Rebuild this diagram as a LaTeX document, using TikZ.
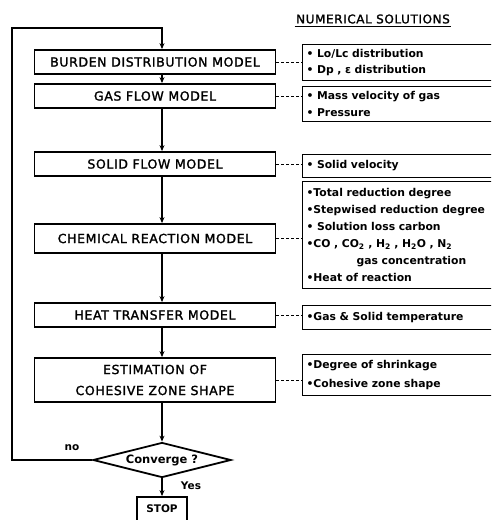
\documentclass[tikz,border=0pt]{standalone}
\usepackage{fontspec}
\setmainfont{DejaVu Sans}
\newfontfamily\lettering[LetterSpace=5,FakeBold=1.6]{DejaVu Sans}
\usetikzlibrary{positioning,arrows.meta,shapes.geometric,calc}

\begin{document}
\begin{tikzpicture}[
  x=1pt, y=-1pt,
  every node/.style={font=\fontsize{10}{12}\selectfont},
  %% model block of the main loop
  mdl/.style={
    draw, line width=1.8pt,
    minimum width=241pt, minimum height=24pt,
    align=center, inner sep=2pt,
    font=\lettering\fontsize{12.5}{21}\selectfont
  },
  %% result box on the right (cut by the page edge)
  sol/.style={
    draw, line width=1.1pt,
    anchor=north west, text width=184pt,
    align=left, inner sep=4pt,
    font=\bfseries\fontsize{10.8}{16.5}\selectfont
  },
  %% convergence test
  tst/.style={
    draw, diamond, line width=1.8pt,
    aspect=3.8, minimum width=138pt, minimum height=35pt,
    inner sep=0pt, font=\bfseries\fontsize{11.5}{13}\selectfont
  },
  %% forward arrows
  arr/.style={-{Stealth[length=6pt,width=5pt]}, line width=1.4pt},
  %% dashed links to the results
  lnk/.style={line width=0.9pt, dash pattern=on 3pt off 2pt},
]
\useasboundingbox (0,0) rectangle (491,520);
\clip (0,0) rectangle (491,520);

%%── Title ────────────────────────────────────────────────────────────────────
\node[font=\lettering\fontsize{12}{13}\selectfont] (title) at (373,19)
  {NUMERICAL SOLUTIONS};
\draw[line width=1.1pt] ($(title.south west)+(2,-1)$) -- ($(title.south east)+(-2,-1)$);

%%── Models ───────────────────────────────────────────────────────────────────
\node[mdl] (burden) at (155,62)  {BURDEN DISTRIBUTION MODEL};
\node[mdl] (gas)    at (155,96)  {GAS FLOW MODEL};
\node[mdl] (solid)  at (155,164) {SOLID FLOW MODEL};
\node[mdl, minimum height=29pt] (chem) at (155,238.5)
  {CHEMICAL REACTION MODEL};
\node[mdl] (heat)   at (155,315) {HEAT TRANSFER MODEL};
\node[mdl, minimum height=44pt] (cohes) at (155,380)
  {ESTIMATION OF\\COHESIVE ZONE SHAPE};

\node[tst] (conv) at (162,460) {Converge ?};
\node[draw, line width=1.8pt, minimum width=50pt, minimum height=24pt,
      font=\bfseries\fontsize{10.5}{12}\selectfont] (stop) at (162,509) {STOP};

\node[font=\bfseries\fontsize{10.5}{12}\selectfont] (no)  at (72,448)  {no};
\node[font=\bfseries\fontsize{10.5}{12}\selectfont] (yes) at (191,486) {Yes};

%%── Numerical solutions ──────────────────────────────────────────────────────
\node[sol, minimum height=36pt] (sol1) at (302,44)
  {\textbullet\ Lo/Lc distribution\\
   \textbullet\ Dp , ε distribution};
\node[sol, minimum height=35pt] (sol2) at (302,86)
  {\textbullet\ Mass velocity of gas\\
   \textbullet\ Pressure};
\node[sol, minimum height=23pt] (sol3) at (302,154)
  {\textbullet\ Solid velocity};
\node[sol, minimum height=107pt, font=\bfseries\fontsize{10.8}{17}\selectfont] (sol4) at (302,181)
  {\textbullet Total reduction degree\\
   \textbullet Stepwised reduction degree\\
   \textbullet\ Solution loss carbon\\
   \textbullet CO , CO\textsubscript{2} , H\textsubscript{2} , H\textsubscript{2}O , N\textsubscript{2}\\
   \hspace*{50pt}gas concentration\\
   \textbullet Heat of reaction};
\node[sol, minimum height=24pt] (sol5) at (302,305)
  {\textbullet Gas \& Solid temperature};
\node[sol, minimum height=41pt, font=\bfseries\fontsize{10.8}{19}\selectfont] (sol6) at (302,354)
  {\textbullet Degree of shrinkage\\
   \textbullet Cohesive zone shape};

%%── Forward arrows ───────────────────────────────────────────────────────────
\foreach \s/\t in {burden/gas, gas/solid, solid/chem, chem/heat, heat/cohes}
  \draw[arr] (\s.south -| conv) -- (\t.north -| conv);
\draw[arr] (cohes.south -| conv) -- (conv.north);
\draw[arr] (conv.south) -- (stop.north);

%%── Return loop ──────────────────────────────────────────────────────────────
\coordinate (ret) at (12,28);
\draw[arr] (conv.west) -| (ret) -| (burden.north -| conv);

%%── Links to the results ─────────────────────────────────────────────────────
\foreach \s/\t in {burden/sol1, gas/sol2, solid/sol3, chem/sol4, heat/sol5, cohes/sol6}
  \draw[lnk] (\s.east) -- (\s.east -| \t.west);

\end{tikzpicture}
\end{document}
